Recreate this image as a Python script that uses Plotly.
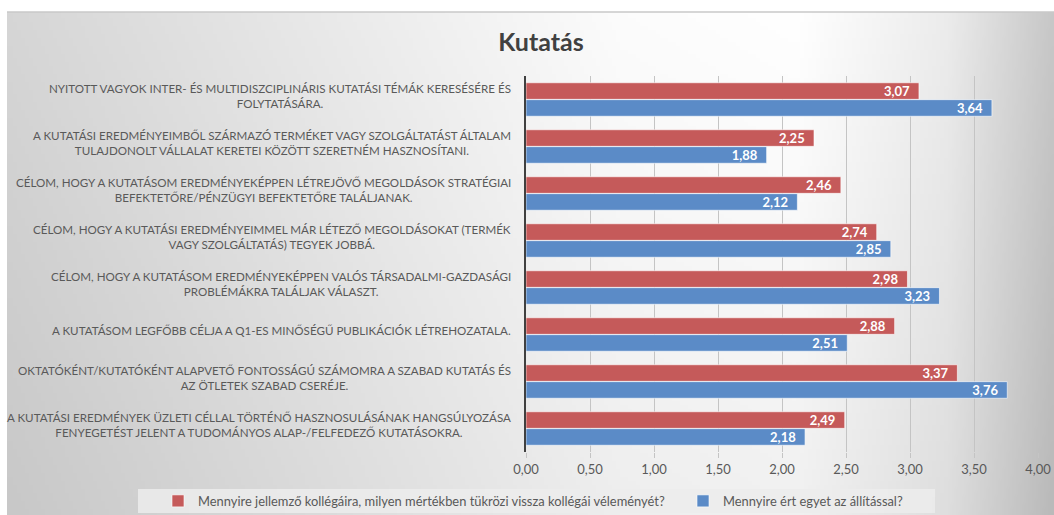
import base64, struct, zlib
import numpy as np
import plotly.graph_objects as go

categories = [
    "NYITOTT VAGYOK INTER- ÉS MULTIDISZCIPLINÁRIS KUTATÁSI TÉMÁK KERESÉSÉRE ÉS<br>FOLYTATÁSÁRA.",
    "A KUTATÁSI EREDMÉNYEIMBŐL SZÁRMAZÓ TERMÉKET VAGY SZOLGÁLTATÁST ÁLTALAM<br>TULAJDONOLT VÁLLALAT KERETEI KÖZÖTT SZERETNÉM HASZNOSÍTANI.",
    "CÉLOM, HOGY A KUTATÁSOM EREDMÉNYEKÉPPEN LÉTREJÖVŐ MEGOLDÁSOK STRATÉGIAI<br>BEFEKTETŐRE/PÉNZÜGYI BEFEKTETŐRE TALÁLJANAK.",
    "CÉLOM, HOGY A KUTATÁSI EREDMÉNYEIMMEL MÁR LÉTEZŐ MEGOLDÁSOKAT (TERMÉK<br>VAGY SZOLGÁLTATÁS) TEGYEK JOBBÁ.",
    "CÉLOM, HOGY A KUTATÁSOM EREDMÉNYEKÉPPEN VALÓS TÁRSADALMI-GAZDASÁGI<br>PROBLÉMÁKRA TALÁLJAK VÁLASZT.",
    "A KUTATÁSOM LEGFŐBB CÉLJA A Q1-ES MINŐSÉGŰ PUBLIKÁCIÓK LÉTREHOZATALA.",
    "OKTATÓKÉNT/KUTATÓKÉNT ALAPVETŐ FONTOSSÁGÚ SZÁMOMRA A SZABAD KUTATÁS ÉS<br>AZ ÖTLETEK SZABAD CSERÉJE.",
    "A KUTATÁSI EREDMÉNYEK ÜZLETI CÉLLAL TÖRTÉNŐ HASZNOSULÁSÁNAK HANGSÚLYOZÁSA<br>FENYEGETÉST JELENT A TUDOMÁNYOS ALAP-/FELFEDEZŐ KUTATÁSOKRA.",
]
colleagues = [3.07, 2.25, 2.46, 2.74, 2.98, 2.88, 3.37, 2.49]
agreement = [3.64, 1.88, 2.12, 2.85, 3.23, 2.51, 3.76, 2.18]
series_names = [
    "Mennyire jellemző kollégáira, milyen mértékben tükrözi vissza kollégái véleményét?",
    "Mennyire ért egyet az állítással?",
]
x_ticks = [0, 0.5, 1, 1.5, 2, 2.5, 3, 3.5, 4]
title_text = "Kutatás"

W, H = 1054, 515
# plot area in screen coordinates
PX0, PX1, PY0, PY1 = 526, 1038, 76, 452
L, R, T, B = PX0, W - PX1, PY0, H - PY1
PW, PH = PX1 - PX0, PY1 - PY0

def px2x(px):
    return (px - PX0) / PW

def py2y(py):
    return (PY1 - py) / PH

# ---- background gradient image (decoration) ----
gw, gh = 262, 126
xs = np.linspace(7, W, gw)
ys = np.linspace(12, H, gh)
prof = np.interp(xs, [7, 300, 620, 800, 950, 1054], [214, 232, 252, 255, 236, 200])
vert = 14 * (ys - 12) / (H - 12)
img = np.clip(prof[None, :] - vert[:, None], 0, 255).astype(np.uint8)

def make_png(a):
    h, w = a.shape
    raw = b"".join(b"\x00" + a[r].tobytes() for r in range(h))
    def chunk(t, d):
        c = struct.pack(">I", len(d)) + t + d
        return c + struct.pack(">I", zlib.crc32(t + d) & 0xFFFFFFFF)
    return (b"\x89PNG\r\n\x1a\n" + chunk(b"IHDR", struct.pack(">IIBBBBB", w, h, 8, 0, 0, 0, 0))
            + chunk(b"IDAT", zlib.compress(raw, 9)) + chunk(b"IEND", b""))

src = "data:image/png;base64," + base64.b64encode(make_png(img)).decode()

FONT = "Lato"
GRAY = "#595959"
RED = "#C55A5A"
BLUE = "#5B8BC7"
PAD = "\u00a0\u00a0"

fig = go.Figure()
for vals, name, col, lg in [(colleagues, series_names[0], RED, "legend"),
                            (agreement, series_names[1], BLUE, "legend2")]:
    fig.add_trace(go.Bar(
        y=categories, x=vals, orientation="h", name=name, legend=lg,
        marker=dict(color=col, line=dict(color="rgba(255,255,255,0.6)", width=1)),
        texttemplate="%{x:.2f}" + PAD, textposition="inside", insidetextanchor="end",
        constraintext="none",
        textfont=dict(family=FONT, size=13, color="white", weight="bold"),
    ))

annotations = []
for c in categories:
    annotations.append(dict(
        x=0, xref="paper", y=c, yref="y", text=c, showarrow=False,
        xanchor="right", yanchor="middle", align="center", xshift=-13, yshift=4,
        font=dict(family=FONT, size=11.6, color=GRAY),
    ))

shapes = [
    dict(type="line", xref="paper", yref="paper", x0=px2x(7), x1=px2x(W), y0=py2y(12), y1=py2y(12),
         line=dict(color="#c8c8c8", width=1.5), layer="below"),
    dict(type="rect", xref="paper", yref="paper", x0=px2x(138), x1=px2x(935), y0=py2y(489), y1=py2y(513),
         fillcolor="rgba(236,236,236,0.85)", line=dict(width=0), layer="below"),
]

legend_common = dict(orientation="h", xanchor="left", y=py2y(501), yanchor="middle",
                     bgcolor="rgba(0,0,0,0)",
                     font=dict(family=FONT, size=12.9, color=GRAY))

fig.update_layout(
    width=W, height=H,
    margin=dict(l=L, r=R, t=T, b=B, autoexpand=False),
    paper_bgcolor="white", plot_bgcolor="rgba(0,0,0,0)",
    separators=", ",
    barmode="group", bargap=0.28, bargroupgap=0.02,
    title=dict(text="<b>" + title_text + "</b>", x=541 / W, xanchor="center",
               y=1 - 42 / H, yanchor="middle", yref="container",
               font=dict(family=FONT, size=25, color="#404040")),
    xaxis=dict(range=[0, 4], tickvals=x_ticks, tickformat=".2f",
               showgrid=True, gridcolor="#c4c4c4", gridwidth=1,
               ticks="outside", ticklen=5, tickcolor="#c4c4c4",
               showline=False, zeroline=False, ticklabelstandoff=0,
               tickfont=dict(family=FONT, size=13, color=GRAY)),
    yaxis=dict(autorange="reversed", showticklabels=False, showgrid=False,
               showline=True, linecolor="#404040", linewidth=2, ticks="", zeroline=False),
    legend=dict(x=px2x(158), **legend_common),
    legend2=dict(x=px2x(683), **legend_common),
    showlegend=True,
    annotations=annotations,
    shapes=shapes,
    images=[dict(source=src, xref="paper", yref="paper", x=px2x(7), y=py2y(12),
                 sizex=px2x(W) - px2x(7), sizey=py2y(12) - py2y(H),
                 xanchor="left", yanchor="top", sizing="stretch", layer="below")],
)

fig.write_html(
    "out.html",
    config={"displayModeBar": False},
    post_script="document.body.style.margin='0';document.documentElement.style.overflow='hidden';",
)
